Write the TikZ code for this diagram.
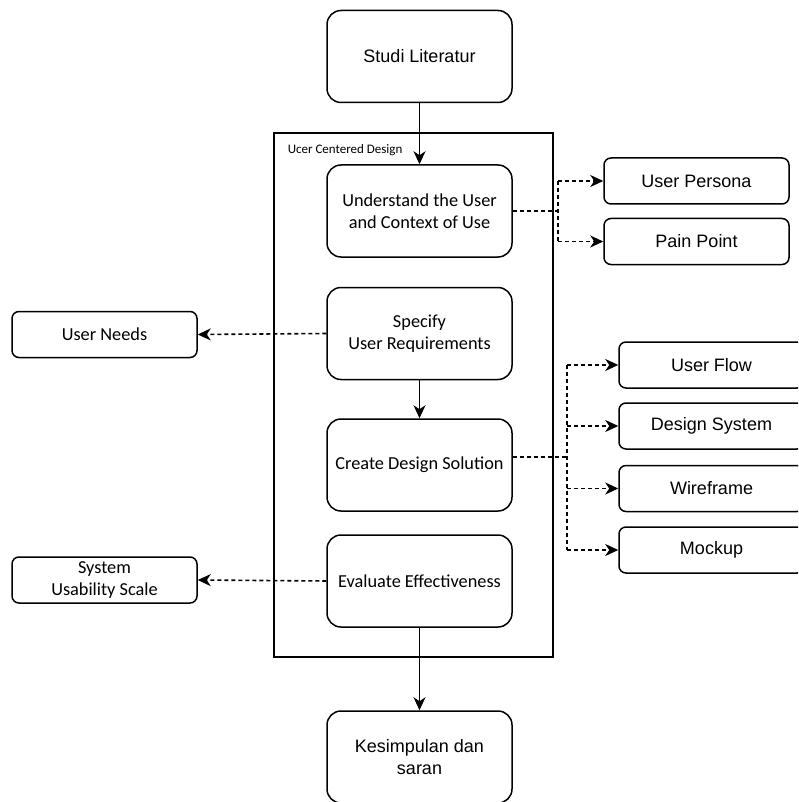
\documentclass[tikz,border=0pt]{standalone}
\usepackage{fontspec}
\setmainfont{Liberation Sans}
\newfontfamily\ucdfont{Carlito}
\usetikzlibrary{arrows.meta}

\tikzset{
  stage/.style={draw, line width=1.5pt, rounded corners=14pt, minimum width=185pt, minimum height=92pt,
    align=center, font=\fontsize{18}{22}\selectfont},
  ucdstage/.style={stage, font=\ucdfont\fontsize{18.3}{22}\selectfont},
  outbox/.style={draw, line width=1.5pt, rounded corners=7pt, minimum width=185pt, minimum height=46pt,
    align=center, font=\fontsize{18}{22}\selectfont},
  ucdout/.style={outbox, font=\ucdfont\fontsize{18.3}{22}\selectfont},
  flow/.style={line width=1.8pt, -{Stealth[length=13pt,width=12pt,inset=4pt]}},
  dash line/.style={line width=1.6pt, dash pattern=on 4pt off 3pt},
  dep/.style={dash line, -{Stealth[length=13pt,width=12pt,inset=4pt]}}
}

\begin{document}
\begin{tikzpicture}[x=1pt, y=-1pt, line width=1.5pt]
		\useasboundingbox (0,0) rectangle (798,802);
		\clip (0,0) rectangle (798,802);
		
		% frame of the method
		\draw (274,133) rectangle (553,657);
		\node[anchor=west, font=\ucdfont\fontsize{13}{15}\selectfont, inner sep=0pt] (ucdlabel) at (287,150) {Ucer Centered Design};
		
		% main stages
		\node[stage] (studi) at (419.5,56.5) {Studi Literatur};
		\node[ucdstage] (understand) at (419.5,211) {Understand the User\\and Context of Use};
		\node[ucdstage] (specify) at (419.5,333.5) {Specify\\User Requirements};
		\node[ucdstage] (create) at (419.5,465) {Create Design Solution};
		\node[ucdstage] (evaluate) at (419.5,581) {Evaluate Effectiveness};
		\node[stage] (kesimpulan) at (419.5,757) {Kesimpulan dan\\saran};
		
		% outputs
		\node[ucdout] (needs) at (104.5,334.5) {User Needs};
		\node[ucdout] (sus) at (104.5,580) {System\\Usability Scale};
		\node[outbox] (persona) at (696.5,181) {User Persona};
		\node[outbox] (pain) at (696.5,241.5) {Pain Point};
		\node[outbox] (userflow) at (711.5,365) {User Flow};
		\node[outbox] (designsys) at (711.5,426) {Design System};
		\node[outbox] (wireframe) at (711.5,488.5) {Wireframe};
		\node[outbox] (mockup) at (711.5,550) {Mockup};
		
		% solid flow
		\draw[flow] (studi) -- (understand);
		\draw[flow] (specify) -- (create);
		\draw[flow] (evaluate) -- (kesimpulan);
		
		% dashed outputs
		\coordinate (j1) at (558,211);
		\coordinate (j2) at (567,457);
		\draw[dash line] (understand.east) -- (j1);
		\draw[dash line] (j1 |- persona.west) -- (j1 |- pain.west);
		\foreach \out in {persona,pain}
		\draw[dep] (j1 |- \out.west) -- (\out.west);
		\draw[dep] (specify.west) -- (needs.east);
		\draw[dep] (evaluate.west) -- (sus.east);
		\draw[dash line] (create.east |- j2) -- (j2);
		\draw[dash line] (j2 |- userflow.west) -- (j2 |- mockup.west);
		\foreach \out in {userflow,designsys,wireframe,mockup}
		\draw[dep] (j2 |- \out.west) -- (\out.west);
		
\end{tikzpicture}
\end{document}
